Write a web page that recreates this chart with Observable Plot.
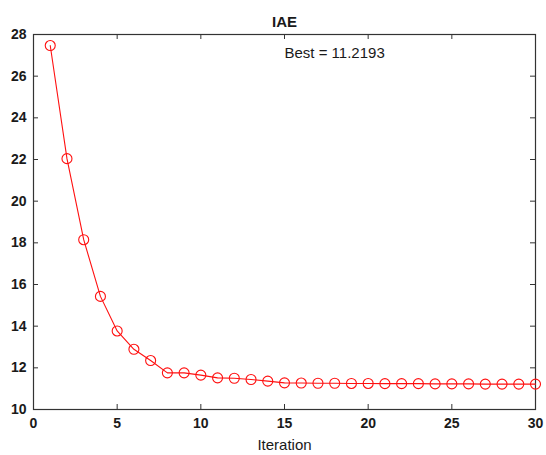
<!DOCTYPE html>
<html>
<head>
<meta charset="utf-8">
<script src="https://cdn.jsdelivr.net/npm/d3@7"></script>
<script src="https://cdn.jsdelivr.net/npm/@observablehq/plot@0.6"></script>
<style>
  html, body { margin: 0; padding: 0; background: #fff; }
  #wrap { position: relative; width: 546px; height: 455px; overflow: hidden; }
  #wrap svg { display: block; max-width: none; }
</style>
</head>
<body>
<div id="wrap"></div>
<script>
const iterations = [1,2,3,4,5,6,7,8,9,10,11,12,13,14,15,16,17,18,19,20,21,22,23,24,25,26,27,28,29,30];
const iae = [27.47, 22.04, 18.15, 15.43, 13.77, 12.89, 12.35, 11.76, 11.76, 11.65, 11.52, 11.50, 11.44, 11.36, 11.28, 11.27, 11.26, 11.26, 11.25, 11.25, 11.24, 11.24, 11.24, 11.23, 11.23, 11.23, 11.22, 11.22, 11.22, 11.2193];
const xTicks = [0, 5, 10, 15, 20, 25, 30];
const yTicks = [10, 12, 14, 16, 18, 20, 22, 24, 26, 28];
const titleText = "IAE";
const xLabel = "Iteration";
const bestLabel = "Best = 11.2193";
const bestPos = {x: 15, y: 27.1};

const data = iterations.map((it, i) => ({it, v: iae[i]}));

const W = 546, H = 455;
const mL = 33, mR = 11, mT = 34, mB = 46;
const plotW = W - mL - mR, plotH = H - mT - mB;
const tick = 5;
const axisColor = "#333";
const font = "Liberation Sans, Arial, Helvetica, sans-serif";

const chart = Plot.plot({
  width: W, height: H,
  marginLeft: mL, marginRight: mR, marginTop: mT, marginBottom: mB,
  style: {fontFamily: font, background: "#fff", color: "#1a1a1a", maxWidth: "none"},
  x: {domain: [0, 30], ticks: xTicks},
  y: {domain: [10, 28], ticks: yTicks},
  marks: [
    Plot.axisX({ticks: xTicks, tickSize: 0, tickPadding: 9, label: null, fontSize: 14, fontWeight: "bold", tickFormat: d => String(d)}),
    Plot.axisY({ticks: yTicks, tickSize: 0, tickPadding: 7, label: null, fontSize: 14, fontWeight: "bold", tickFormat: d => String(d)}),
    // inward tick marks on all four sides
    Plot.tickX(xTicks.slice(1, -1), {x: d => d, stroke: axisColor, insetTop: plotH - tick}),
    Plot.tickX(xTicks.slice(1, -1), {x: d => d, stroke: axisColor, insetBottom: plotH - tick}),
    Plot.tickY(yTicks.slice(1, -1), {y: d => d, stroke: axisColor, insetRight: plotW - tick}),
    Plot.tickY(yTicks.slice(1, -1), {y: d => d, stroke: axisColor, insetLeft: plotW - tick}),
    Plot.frame({stroke: axisColor, strokeWidth: 1.2}),
    Plot.line(data, {x: "it", y: "v", stroke: "#ff1010", strokeWidth: 1.1}),
    Plot.dot(data, {x: "it", y: "v", r: 5, stroke: "#ff1010", fill: "none", strokeWidth: 1.1}),
    Plot.text([titleText], {frameAnchor: "top", lineAnchor: "middle", dy: -12.5, text: d => d, fontSize: 15, fontWeight: "bold", fill: "#1a1a1a"}),
    Plot.text([xLabel], {frameAnchor: "bottom", lineAnchor: "middle", dy: 36, text: d => d, fontSize: 15, fill: "#1a1a1a"}),
    Plot.text([bestLabel], {x: () => bestPos.x, y: () => bestPos.y, text: d => d, textAnchor: "start", fontSize: 15, fill: "#1a1a1a"})
  ]
});
document.getElementById("wrap").appendChild(chart);
</script>
</body>
</html>
